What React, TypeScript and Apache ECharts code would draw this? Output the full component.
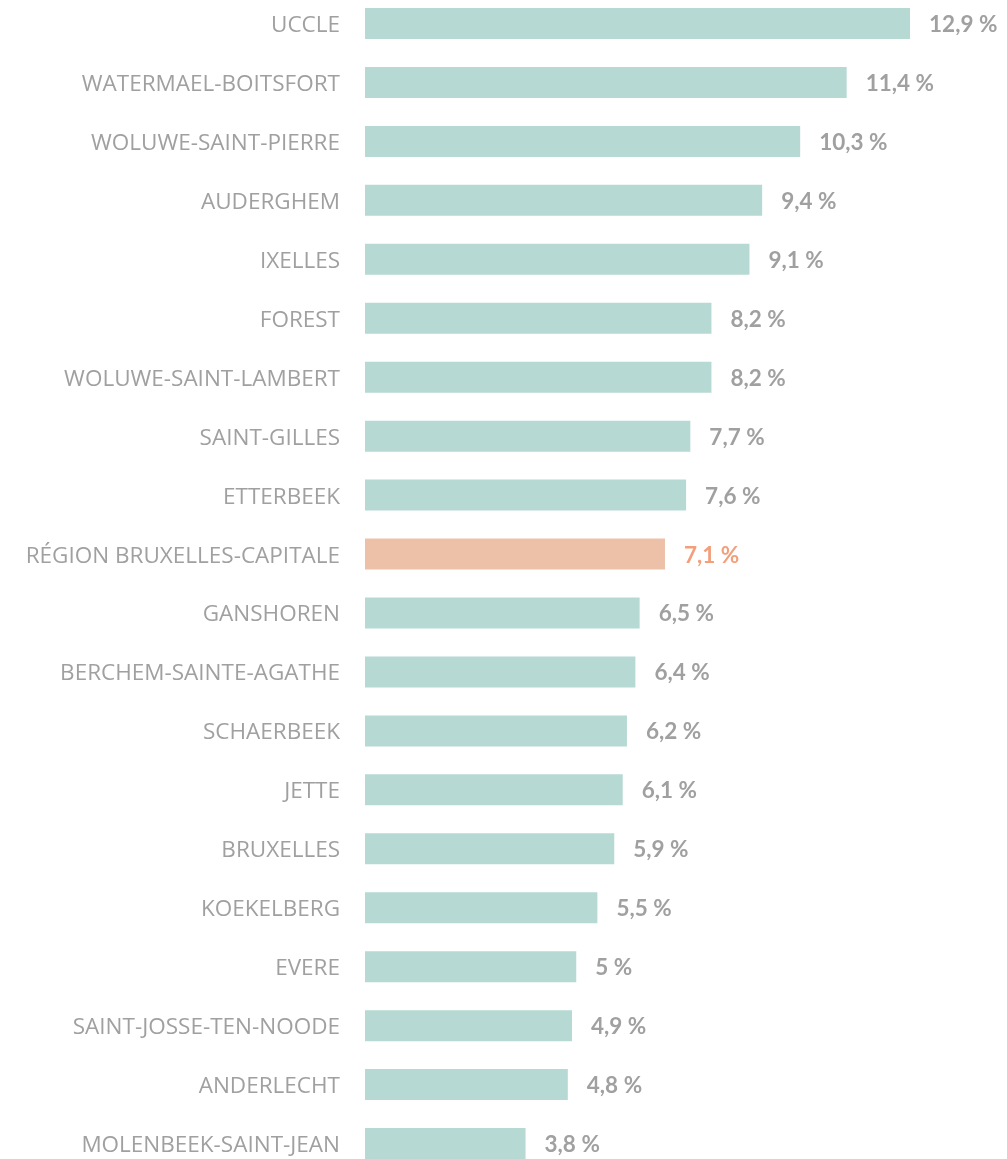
import React, { useEffect, useRef } from "react";
import * as echarts from "echarts";

const categories = [
  "UCCLE",
  "WATERMAEL-BOITSFORT",
  "WOLUWE-SAINT-PIERRE",
  "AUDERGHEM",
  "IXELLES",
  "FOREST",
  "WOLUWE-SAINT-LAMBERT",
  "SAINT-GILLES",
  "ETTERBEEK",
  "RÉGION BRUXELLES-CAPITALE",
  "GANSHOREN",
  "BERCHEM-SAINTE-AGATHE",
  "SCHAERBEEK",
  "JETTE",
  "BRUXELLES",
  "KOEKELBERG",
  "EVERE",
  "SAINT-JOSSE-TEN-NOODE",
  "ANDERLECHT",
  "MOLENBEEK-SAINT-JEAN",
];

const values = [12.9, 11.4, 10.3, 9.4, 9.1, 8.2, 8.2, 7.7, 7.6, 7.1, 6.5, 6.4, 6.2, 6.1, 5.9, 5.5, 5, 4.9, 4.8, 3.8];

const highlightCategory = "RÉGION BRUXELLES-CAPITALE";

const TEAL = "#b6d9d3";
const SALMON = "#ecc1a8";
const GREY_TEXT = "#a0a0a0";
const ORANGE_TEXT = "#f2a07c";

export default function App() {
  const ref = useRef<HTMLDivElement>(null);
  useEffect(() => {
    if (!ref.current) return;
    const chart = echarts.init(ref.current, null, { renderer: "svg" });
    const fmt = (v: number) => String(v).replace(".", ",") + " %";
    chart.setOption({
      animation: false,
      grid: { left: 365, top: 0, width: 633.75, height: 1179, containLabel: false },
      xAxis: {
        type: "value",
        min: 0,
        max: 15,
        show: false,
        splitLine: { show: false },
      },
      yAxis: {
        type: "category",
        data: categories,
        inverse: true,
        axisLine: { show: false },
        axisTick: { show: false },
        axisLabel: {
          margin: 25,
          color: "#a0a0a0",
          fontFamily: "Open Sans, sans-serif",
          fontSize: 22.5,
          padding: [14, 0, 0, 0],
        },
      },
      series: [
        {
          type: "bar",
          barWidth: 31,
          data: values.map((v, i) => {
            const hi = categories[i] === highlightCategory;
            return {
              value: v,
              itemStyle: { color: hi ? SALMON : TEAL },
              label: { color: hi ? ORANGE_TEXT : GREY_TEXT },
            };
          }),
          label: {
            show: true,
            position: "right",
            distance: 19,
            fontFamily: "Lato, sans-serif",
            fontWeight: "bold",
            fontSize: 22.5,
            padding: [6, 0, 0, 0],
            formatter: (p: any) => fmt(p.value),
          },
        },
      ],
    });
    return () => chart.dispose();
  }, []);
  return (
    <div style={{ position: "fixed", left: 0, top: 0, width: 1007, height: 1159, overflow: "hidden" }}>
      <div
        ref={ref}
        style={{ position: "absolute", left: 0, top: -6, width: 1007, height: 1180 }}
      />
    </div>
  );
}
